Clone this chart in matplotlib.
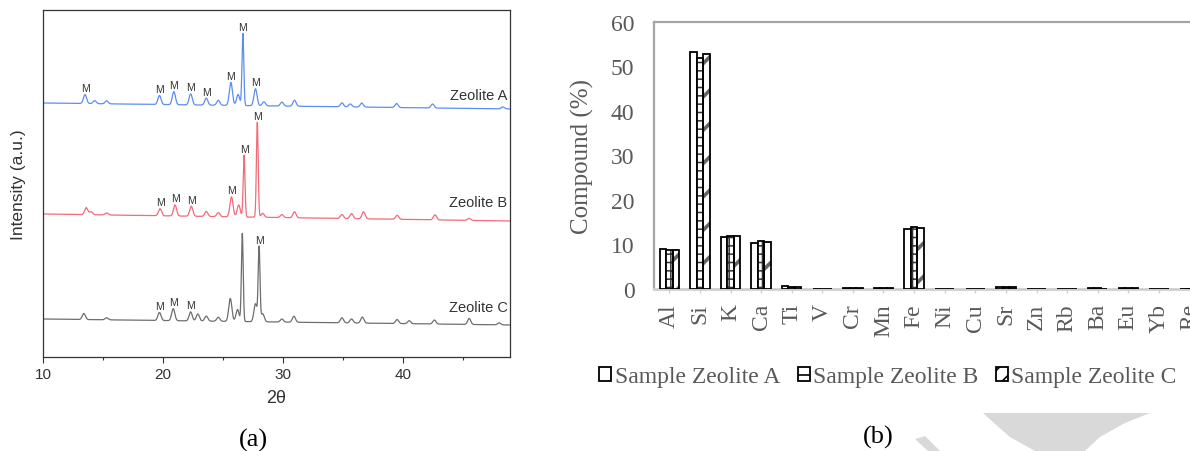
import numpy as np
import matplotlib
matplotlib.use("Agg")
import matplotlib.pyplot as plt
from matplotlib.patches import Patch, Polygon

# ---------------- data: panel (a) XRD patterns ----------------
two_theta_range = [10, 49]
A_pos = [13.5, 14.3, 15.3, 19.7, 20.9, 22.3, 23.6, 24.6, 25.65, 26.25, 26.65, 27.7, 28.4, 29.9, 30.95, 34.9, 35.6, 36.55, 39.45, 42.45, 48.3]
A_h   = [9, 3, 3, 9, 13, 11, 7, 5, 23, 11, 72, 17, 4, 4, 6, 4, 3, 4, 4, 4, 2]
A_base = [254, 248]
B_pos = [13.6, 14.0, 15.3, 19.75, 21.0, 22.35, 23.6, 24.6, 25.7, 26.3, 26.75, 27.85, 28.3, 29.9, 30.95, 34.9, 35.7, 36.7, 39.5, 42.65, 45.5]
B_h   = [7, 3, 2, 7, 11, 10, 5, 4, 20, 12, 62, 95, 4, 3, 6, 4, 5, 7, 4, 5, 2]
B_base = [143, 136]
C_pos = [13.4, 15.3, 19.7, 20.85, 22.3, 22.9, 23.6, 24.6, 25.6, 26.2, 26.6, 27.7, 28.0, 28.3, 29.9, 30.9, 34.9, 35.7, 36.6, 39.5, 40.5, 42.6, 45.5, 48.0]
C_h   = [6, 2, 8, 12, 9, 7, 5, 4, 23, 12, 88, 18, 74, 8, 3, 6, 5, 4, 6, 4, 3, 4, 6, 2]
C_base = [38, 32]
A_M = [13.5, 19.7, 20.9, 22.3, 23.6, 25.65, 26.65, 27.7]
B_M = [19.75, 21.0, 22.35, 25.7, 26.75, 27.85]
C_M = [19.7, 20.85, 22.3, 28.0]
trace_names = ["Zeolite A", "Zeolite B", "Zeolite C"]
trace_label_y = [262, 155, 50]

# ---------------- data: panel (b) elemental composition ----------------
elements = ["Al", "Si", "K", "Ca", "Ti", "V", "Cr", "Mn", "Fe", "Ni", "Cu", "Sr", "Zn", "Rb", "Ba", "Eu", "Yb", "Re"]
zeo_A = [9.1, 53.2, 11.7, 10.4, 0.6, 0.02, 0.25, 0.3, 13.4, 0.05, 0.05, 0.5, 0.02, 0.05, 0.15, 0.3, 0.05, 0.0]
zeo_B = [8.7, 51.9, 12.0, 10.7, 0.4, 0.02, 0.2, 0.25, 13.9, 0.05, 0.05, 0.35, 0.0, 0.05, 0.15, 0.25, 0.05, 0.0]
zeo_C = [8.7, 52.7, 11.8, 10.5, 0.4, 0.02, 0.2, 0.25, 13.7, 0.05, 0.05, 0.35, 0.0, 0.05, 0.1, 0.25, 0.05, 0.0]
series_names = ["Sample Zeolite A", "Sample Zeolite B", "Sample Zeolite C"]
yticks_b = [0, 10, 20, 30, 40, 50, 60]

# ---------------- figure ----------------
W, H = 1190, 452
fig = plt.figure(figsize=(W / 100, H / 100), dpi=100)
plt.rcParams['hatch.linewidth'] = 1.2

def fx(px):
    return px / W

def fy(py):
    return 1 - py / H

# ---- panel (a)
sans = ['Liberation Sans', 'DejaVu Sans']
axa = fig.add_axes([fx(43), fy(358), (510 - 43) / W, (358 - 11) / H])
x = np.linspace(two_theta_range[0], two_theta_range[1], 4000)

def pattern(pos, h, base):
    y = base[0] + (base[1] - base[0]) * (x - x[0]) / (x[-1] - x[0])
    for p, hh in zip(pos, h):
        w = 0.075 if hh > 50 else 0.13
        y = y + hh * np.exp(-0.5 * ((x - p) / w) ** 2)
    return y

colors_a = ['#5b8ef2', '#f26b78', '#6e6e6e']
datasets = [(A_pos, A_h, A_base, A_M), (B_pos, B_h, B_base, B_M), (C_pos, C_h, C_base, C_M)]
for (pos, h, base, mlist), col, name, ly in zip(datasets, colors_a, trace_names, trace_label_y):
    y = pattern(pos, h, base)
    axa.plot(x, y, color=col, lw=0.9)
    for m in mlist:
        sel = np.abs(x - m) < 0.15
        axa.text(m, y[sel].max() + 1.5, "M", ha='center', va='bottom', fontsize=7.5,
                 family=sans, color='#333333')
    axa.text(48.7, ly, name, ha='right', va='center', fontsize=10.5, family=sans, color='#333333')

axa.set_xlim(10, 48.9)
axa.set_ylim(0, 347)
axa.set_yticks([])
axa.set_xticks([10, 20, 30, 40])
axa.set_xticks([15, 25, 35, 45], minor=True)
axa.tick_params(axis='x', which='major', length=4, width=0.8, labelsize=11, colors='#333333', pad=3)
axa.tick_params(axis='x', which='minor', length=2.5, width=0.8, colors='#333333')
for lab in axa.get_xticklabels():
    lab.set_family(sans)
for s in axa.spines.values():
    s.set_color('#333333')
    s.set_linewidth(0.9)
axa.set_xlabel("2θ", fontsize=13, family=sans, color='#333333', labelpad=6)
axa.set_ylabel("Intensity (a.u.)", fontsize=12.5, family=sans, color='#333333')
axa.yaxis.set_label_coords((26 - 43) / (510 - 43), 0.5)

# ---- panel (b)
serif = ['Liberation Serif', 'DejaVu Serif']
gray_txt = '#595959'
nb = len(elements)
left_b = 654
step = 30.6
axb = fig.add_axes([fx(left_b), fy(290), nb * step / W, (290 - 23) / H])
xi = np.arange(nb)
bw = 0.21
offs = [-bw, 0, bw]

def set_hlw(container, lw):
    for p in container:
        if hasattr(p, 'set_hatch_linewidth'):
            p.set_hatch_linewidth(lw)

# A: plain
axb.bar(xi + offs[0], zeo_A, bw, facecolor='white', edgecolor='black', linewidth=1.3, zorder=3)
# B: grid hatch
cb = axb.bar(xi + offs[1], zeo_B, bw, facecolor='white', edgecolor='#333333', hatch='++', linewidth=0, zorder=3)
set_hlw(cb, 1.1)
axb.bar(xi + offs[1], zeo_B, bw, facecolor='none', edgecolor='black', linewidth=1.3, zorder=4)
# C: diagonal hatch
cc = axb.bar(xi + offs[2], zeo_C, bw, facecolor='white', edgecolor='#666666', hatch='/', linewidth=0, zorder=3)
set_hlw(cc, 2.6)
axb.bar(xi + offs[2], zeo_C, bw, facecolor='none', edgecolor='black', linewidth=1.3, zorder=4)

axb.set_xlim(-0.5, nb - 0.5)
axb.set_ylim(0, 60)
axb.set_yticks(yticks_b)
axb.set_yticklabels([str(v) for v in yticks_b])
axb.set_xticks(xi)
axb.set_xticklabels(elements, rotation=90)
axb.tick_params(axis='y', length=0, pad=14, labelsize=17, labelcolor=gray_txt)
axb.tick_params(axis='x', length=3, width=1, color='#d0d0d0', pad=7, labelsize=17, labelcolor=gray_txt)
for lab in axb.get_xticklabels() + axb.get_yticklabels():
    lab.set_family(serif)
for k in ['top', 'left', 'right']:
    axb.spines[k].set_color('#a6a6a6')
    axb.spines[k].set_linewidth(1.6)
axb.spines['bottom'].set_color('#cfcfcf')
axb.spines['bottom'].set_linewidth(2.0)
axb.set_ylabel("Compound (%)", fontsize=18, family=serif, color=gray_txt)
axb.yaxis.set_label_coords((594 - left_b) / (nb * step), 0.5)

handles = [Patch(facecolor='white', edgecolor='black', linewidth=1.3),
           Patch(facecolor='white', edgecolor='black', hatch='-', linewidth=1.3),
           Patch(facecolor='white', edgecolor='black', hatch='//', linewidth=1.3)]
leg = fig.legend(handles, series_names, loc='center', bbox_to_anchor=(fx(888), fy(378)), ncol=3,
                 frameon=False, handlelength=0.5, handleheight=0.5, handletextpad=0.15,
                 columnspacing=0.75, prop={'family': serif, 'size': 17})
for t in leg.get_texts():
    t.set_color(gray_txt)

# panel captions
fig.text(fx(253), fy(440), "(a)", ha='center', va='center', fontsize=19, family=serif, color='black')
fig.text(fx(878), fy(437), "(b)", ha='center', va='center', fontsize=19, family=serif, color='black')

# light grey decorative swoosh (background watermark)
swoosh = [(983, 414), (1150, 414), (1125, 424), (1100, 438), (1085, 452), (1035, 452),
          (1010, 438), (995, 425)]
fig.patches.append(Polygon([(fx(a), fy(b)) for a, b in swoosh], closed=True,
                           transform=fig.transFigure, facecolor='#d9d9d9', edgecolor='none', zorder=0))
tail = [(915, 440), (925, 437), (940, 452), (928, 452)]
fig.patches.append(Polygon([(fx(a), fy(b)) for a, b in tail], closed=True,
                           transform=fig.transFigure, facecolor='#d9d9d9', edgecolor='none', zorder=0))

fig.savefig("out.png", dpi=100)
